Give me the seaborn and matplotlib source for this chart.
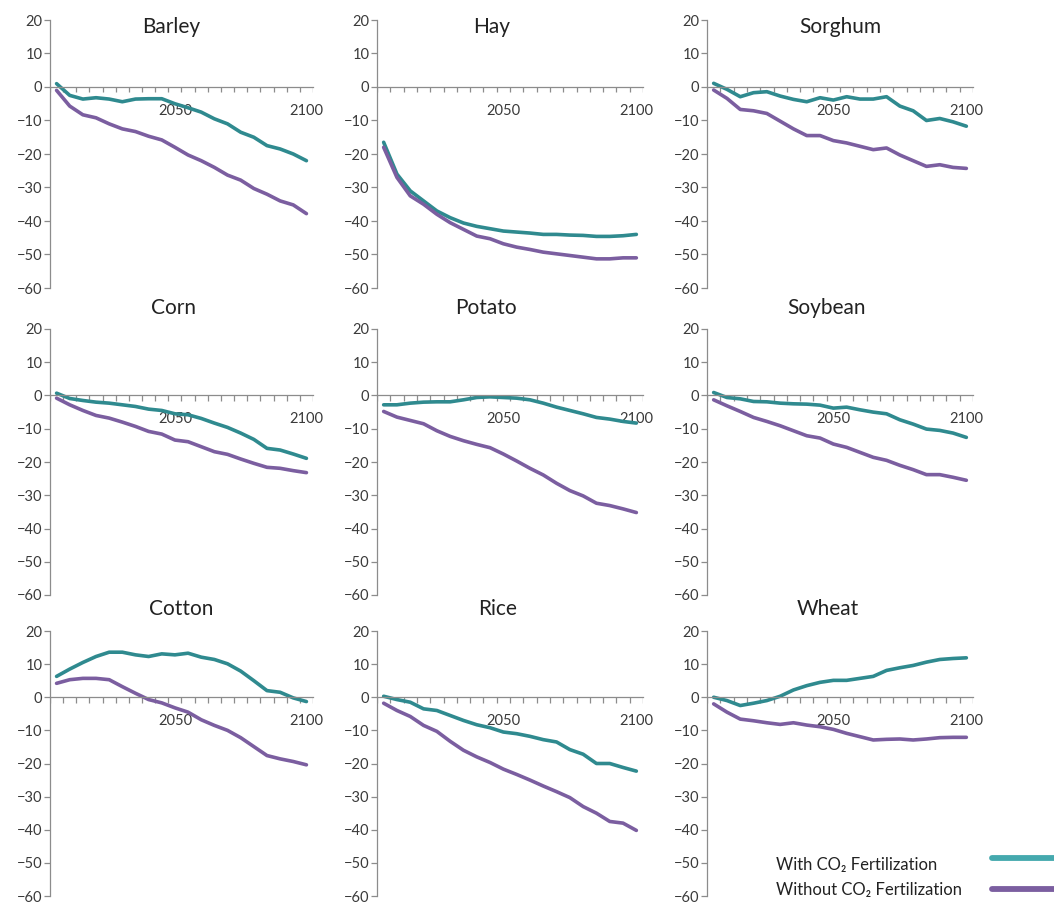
#!/usr/bin/env python3
import pandas as pd
import seaborn as sns
import matplotlib.pyplot as plt
from matplotlib.lines import Line2D

# yield change (%) per crop, with and without CO2 fertilization
years = [2005, 2010, 2015, 2020, 2025, 2030, 2035, 2040, 2045, 2050,
         2055, 2060, 2065, 2070, 2075, 2080, 2085, 2090, 2095, 2100]
crops = ['Barley', 'Hay', 'Sorghum', 'Corn', 'Potato', 'Soybean', 'Cotton', 'Rice', 'Wheat']

barley_with = [1, -2.5, -3.6, -3.2, -3.6, -4.4, -3.6, -3.5, -3.5, -5.0,
               -6.2, -7.5, -9.5, -11.0, -13.5, -15.0, -17.5, -18.5, -20.0, -22.0]
barley_without = [-1, -5.7, -8.3, -9.2, -11.0, -12.5, -13.3, -14.7, -15.8, -18.0,
                  -20.3, -22.0, -24.0, -26.3, -27.8, -30.3, -32.0, -34.0, -35.2, -37.8]
hay_with = [-16.5, -26.0, -31.0, -34.0, -37.0, -39.0, -40.6, -41.6, -42.3, -43.0,
            -43.3, -43.6, -44.0, -44.0, -44.2, -44.3, -44.6, -44.6, -44.4, -44.0]
hay_without = [-18.0, -27.0, -32.5, -35.0, -38.0, -40.5, -42.5, -44.5, -45.3, -46.8,
               -47.8, -48.5, -49.3, -49.8, -50.3, -50.8, -51.3, -51.3, -51.0, -51.0]
sorghum_with = [1.1, -0.7, -2.9, -1.7, -1.4, -2.7, -3.7, -4.4, -3.2, -3.9,
                -2.9, -3.6, -3.6, -2.9, -5.7, -7.1, -10.0, -9.4, -10.4, -11.7]
sorghum_without = [-0.9, -3.4, -6.7, -7.1, -7.9, -10.2, -12.5, -14.5, -14.5, -16.0,
                   -16.7, -17.7, -18.7, -18.2, -20.3, -22.0, -23.7, -23.2, -24.0, -24.3]
corn_with = [0.7, -0.9, -1.5, -2.0, -2.3, -2.8, -3.3, -4.1, -4.5, -5.5,
             -5.8, -6.9, -8.3, -9.6, -11.3, -13.2, -15.9, -16.4, -17.6, -18.9]
corn_without = [-0.8, -2.8, -4.5, -6.0, -6.8, -8.0, -9.3, -10.8, -11.6, -13.4,
                -13.9, -15.4, -16.9, -17.7, -19.1, -20.4, -21.6, -21.9, -22.6, -23.2]
potato_with = [-2.8, -2.8, -2.3, -2.0, -1.9, -1.9, -1.3, -0.6, -0.4, -0.6,
               -0.8, -1.3, -2.3, -3.5, -4.5, -5.5, -6.6, -7.1, -7.8, -8.3]
potato_without = [-4.8, -6.5, -7.5, -8.5, -10.6, -12.3, -13.6, -14.7, -15.7, -17.6,
                  -19.7, -21.9, -23.9, -26.4, -28.6, -30.2, -32.4, -33.1, -34.1, -35.2]
soybean_with = [0.9, -0.6, -1.0, -1.8, -1.9, -2.3, -2.5, -2.6, -2.9, -3.8,
                -3.5, -4.3, -5.0, -5.5, -7.3, -8.6, -10.1, -10.5, -11.3, -12.6]
soybean_without = [-1.3, -3.1, -4.8, -6.6, -7.8, -9.1, -10.6, -12.1, -12.8, -14.6,
                   -15.6, -17.1, -18.6, -19.5, -21.0, -22.3, -23.8, -23.8, -24.6, -25.5]
cotton_with = [6.3, 8.5, 10.5, 12.3, 13.6, 13.6, 12.8, 12.3, 13.1, 12.8,
               13.3, 12.1, 11.4, 10.1, 7.9, 5.0, 2.0, 1.5, -0.2, -1.3]
cotton_without = [4.2, 5.3, 5.7, 5.7, 5.3, 3.2, 1.2, -0.7, -1.7, -3.2,
                  -4.5, -6.8, -8.5, -10.0, -12.2, -14.9, -17.6, -18.6, -19.4, -20.4]
rice_with = [0.3, -0.7, -1.5, -3.5, -4.0, -5.5, -7.0, -8.3, -9.2, -10.5,
             -11.0, -11.8, -12.8, -13.5, -15.8, -17.2, -20.0, -20.0, -21.2, -22.3]
rice_without = [-1.8, -4.0, -5.8, -8.5, -10.3, -13.3, -16.0, -18.0, -19.7, -21.7,
                -23.3, -25.0, -26.8, -28.5, -30.3, -33.0, -35.0, -37.5, -38.0, -40.2]
wheat_with = [0.0, -1.0, -2.5, -1.8, -1.0, 0.3, 2.2, 3.5, 4.5, 5.1,
              5.1, 5.7, 6.3, 8.1, 8.9, 9.6, 10.6, 11.4, 11.7, 11.9]
wheat_without = [-2.0, -4.5, -6.6, -7.1, -7.7, -8.2, -7.7, -8.4, -8.9, -9.7,
                 -10.9, -11.9, -12.9, -12.7, -12.6, -12.9, -12.6, -12.2, -12.1, -12.1]

y_ticks = [-60, -50, -40, -30, -20, -10, 0, 10, 20]
x_labels = [2050, 2100]

with_series = [barley_with, hay_with, sorghum_with, corn_with, potato_with,
               soybean_with, cotton_with, rice_with, wheat_with]
without_series = [barley_without, hay_without, sorghum_without, corn_without, potato_without,
                  soybean_without, cotton_without, rice_without, wheat_without]

label_with = 'With CO\u2082 Fertilization'
label_without = 'Without CO\u2082 Fertilization'

rows = []
for crop, w, wo in zip(crops, with_series, without_series):
    for year, a, b in zip(years, w, wo):
        rows.append({'crop': crop, 'year': year, 'change': a, 'scenario': label_with})
        rows.append({'crop': crop, 'year': year, 'change': b, 'scenario': label_without})
df = pd.DataFrame(rows)

teal = '#2F8A8F'
purple = '#7B5EA0'
axis_grey = '#8C8C8C'
text_color = '#3A3A3A'

sns.set_style('ticks')
plt.rcParams['font.family'] = ['Lato', 'DejaVu Sans']

W, H = 1054, 905
fig = plt.figure(figsize=(W / 100, H / 100), dpi=100)

# panel extents in pixels
cols_px = [(50, 313), (377, 643), (707, 973)]
rows_px = [(20, 288), (329, 595), (631, 896)]
title_x = [0.46, 0.43, 0.50, 0.47, 0.41, 0.45, 0.50, 0.455, 0.455]
title_y = [0.974, 1.079, 1.083]

# category boundaries (Excel-style tick marks between the years)
boundaries = [2002.5 + 5 * k for k in range(21)]

for i, crop in enumerate(crops):
    r, c = divmod(i, 3)
    x0, x1 = cols_px[c]
    y0, y1 = rows_px[r]
    ax = fig.add_axes([x0 / W, 1 - y1 / H, (x1 - x0) / W, (y1 - y0) / H])

    sns.lineplot(data=df[df['crop'] == crop], x='year', y='change', hue='scenario',
                 palette={label_with: teal, label_without: purple},
                 linewidth=2.6, legend=False, ax=ax)

    ax.set_xlim(2002.5, 2102.5)
    ax.set_ylim(-60, 20)
    ax.set_xlabel('')
    ax.set_ylabel('')

    for side in ['top', 'right']:
        ax.spines[side].set_visible(False)
    ax.spines['bottom'].set_position(('data', 0))
    for side in ['left', 'bottom']:
        ax.spines[side].set_color(axis_grey)
        ax.spines[side].set_linewidth(0.9)

    # tick comb hanging under the zero line
    ax.vlines(boundaries, -1.6, 0, colors=axis_grey, linewidth=0.9, zorder=1)

    ax.set_yticks(y_ticks)
    ax.set_xticks(x_labels, labels=[str(v) for v in x_labels])
    ax.tick_params(axis='y', which='major', direction='out', length=4, width=0.9,
                   color=axis_grey, labelsize=10.5, labelcolor=text_color, pad=1.5)
    ax.tick_params(axis='x', which='major', length=0, labelsize=10.5,
                   labelcolor=text_color, pad=12)
    ax.grid(False)
    ax.set_facecolor('none')

    ax.text(title_x[i], title_y[r], crop, transform=ax.transAxes,
            ha='center', va='center', fontsize=15, color='#222222')

# legend: label text on the left, line sample on the right
fig.text(776 / W, 1 - 865 / H, label_with, ha='left', va='center',
         fontsize=12, color='#222222')
fig.text(776 / W, 1 - 890 / H, label_without, ha='left', va='center',
         fontsize=12, color='#222222')
fig.add_artist(Line2D([992 / W, 1.0], [1 - 858 / H, 1 - 858 / H], color='#45A9AE', lw=4.2))
fig.add_artist(Line2D([992 / W, 1.0], [1 - 889 / H, 1 - 889 / H], color=purple, lw=4.2))

fig.savefig('out.png', dpi=100, facecolor='white')
